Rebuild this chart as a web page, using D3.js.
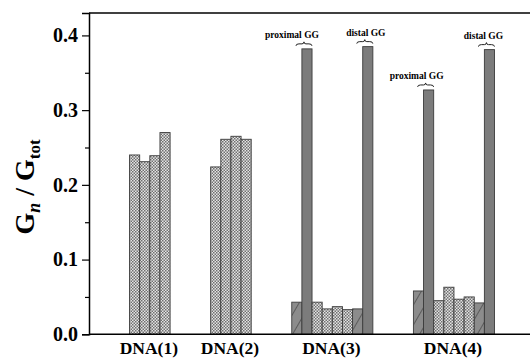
<!DOCTYPE html>
<html lang="en"><head><meta charset="utf-8">
<script type="text/javascript" src="https://cdn.jsdelivr.net/npm/d3@7"></script>
<style>
  body { margin: 0; background: #fff; }
  text { font-family: "Liberation Serif", "Times New Roman", serif; font-weight: bold; }
</style>
</head>
<body>
<script type="text/javascript">
// bar chart of G_n / G_tot per DNA strand
var width = 530;
var height = 358;

var categories = ["DNA(1)", "DNA(2)", "DNA(3)", "DNA(4)"];
var dna1 = [0.240, 0.231, 0.239, 0.270];
var dna2 = [0.224, 0.261, 0.265, 0.261];
var dna3 = [0.043, 0.382, 0.043, 0.034, 0.037, 0.033, 0.034, 0.385];
var dna4 = [0.058, 0.327, 0.045, 0.063, 0.047, 0.050, 0.042, 0.381];
var kinds12 = ["dot", "dot", "dot", "dot"];
var kinds34 = ["hatch", "dark", "dot", "dot", "dot", "dot", "hatch", "dark"];
var yTicks = [0.0, 0.1, 0.2, 0.3, 0.4];
var notes = [
    {group: 2, bar: 1, label: "proximal GG"},
    {group: 2, bar: 7, label: "distal GG"},
    {group: 3, bar: 1, label: "proximal GG"},
    {group: 3, bar: 7, label: "distal GG"}
];
var noteShift = [-15, -2, -12, -6];

var groups = [
    {name: categories[0], values: dna1, kinds: kinds12},
    {name: categories[1], values: dna2, kinds: kinds12},
    {name: categories[2], values: dna3, kinds: kinds34},
    {name: categories[3], values: dna4, kinds: kinds34}
];

// lay the bars out in slots, 4 empty slots between groups
var bars = [];
var slot = 0;
groups.forEach(function(g, gi) {
    g.start = slot;
    g.values.forEach(function(v, i) {
        bars.push({group: gi, index: i, slot: slot + i, value: v, kind: g.kinds[i]});
    });
    g.end = slot + g.values.length - 1;
    slot += g.values.length + 4;
});

var plotL = 89, plotR = 530, plotT = 13, plotB = 334.3;

var x = d3.scaleLinear().domain([-4.5, 39]).range([plotL, plotR]);
var y = d3.scaleLinear().domain([0, 0.43]).range([plotB, plotT]);
var bw = x(1) - x(0);

var svg = d3.select("body").append("svg")
    .attr("width", width)
    .attr("height", height);

var defs = svg.append("defs");

var dot = defs.append("pattern").attr("id", "dot")
    .attr("patternUnits", "userSpaceOnUse")
    .attr("width", 3).attr("height", 3);
dot.append("rect").attr("width", 3).attr("height", 3).attr("fill", "#e4e4e4");
dot.append("rect").attr("width", 1.5).attr("height", 1.5).attr("fill", "#707070");
dot.append("rect").attr("x", 1.5).attr("y", 1.5).attr("width", 1.5).attr("height", 1.5).attr("fill", "#707070");

var hatch = defs.append("pattern").attr("id", "hatch")
    .attr("patternUnits", "userSpaceOnUse")
    .attr("width", 10).attr("height", 10)
    .attr("patternTransform", "rotate(30)");
hatch.append("rect").attr("width", 10).attr("height", 10).attr("fill", "#8c8c8c");
hatch.append("line").attr("x1", 0).attr("y1", 0).attr("x2", 0).attr("y2", 10)
    .attr("stroke", "#3a3a3a").attr("stroke-width", 1.2);

var fills = {dot: "url(#dot)", hatch: "url(#hatch)", dark: "#7c7c7c"};

svg.selectAll("rect.bar")
    .data(bars)
    .enter()
    .append("rect")
    .attr("class", "bar")
    .attr("x", d => x(d.slot) - bw / 2)
    .attr("width", bw)
    .attr("y", d => y(d.value))
    .attr("height", d => y(0) - y(d.value))
    .attr("fill", d => fills[d.kind])
    .attr("stroke", "#3c3c3c")
    .attr("stroke-width", 0.9);

// frame: top line, bottom axis
svg.append("line").attr("x1", plotL).attr("x2", plotR).attr("y1", plotT).attr("y2", plotT)
    .attr("stroke", "#000").attr("stroke-width", 1.5);
svg.append("line").attr("x1", plotL).attr("x2", plotR).attr("y1", plotB).attr("y2", plotB)
    .attr("stroke", "#000").attr("stroke-width", 1.5);

var yAxis = svg.append("g")
    .attr("transform", "translate(" + plotL + ",0)")
    .call(d3.axisLeft(y).tickValues(yTicks).tickFormat(d3.format(".1f")).tickSize(7).tickPadding(4));
yAxis.select(".domain").attr("stroke-width", 1.5);
yAxis.selectAll(".tick line").attr("stroke-width", 1.2);
yAxis.selectAll("text")
    .style("font-size", "20px")
    .attr("fill", "#000");

var minor = svg.append("g")
    .attr("transform", "translate(" + plotL + ",0)")
    .call(d3.axisLeft(y).tickValues([0.05, 0.15, 0.25, 0.35]).tickFormat("").tickSize(4));
minor.select(".domain").remove();
minor.selectAll(".tick line").attr("stroke-width", 1.2);

// category labels
svg.selectAll("text.cat")
    .data(groups)
    .enter()
    .append("text")
    .attr("class", "cat")
    .attr("x", d => (x(d.start) + x(d.end)) / 2 - 1)
    .attr("y", 354)
    .attr("text-anchor", "middle")
    .style("font-size", "17.5px")
    .text(d => d.name);

// peak annotations with small braces
notes.forEach(function(n, i) {
    var b = bars.find(d => d.group === n.group && d.index === n.bar);
    var cx = x(b.slot);
    var ty = y(b.value);
    svg.append("text")
        .attr("x", cx + noteShift[i])
        .attr("y", ty - 11)
        .attr("text-anchor", "middle")
        .style("font-size", "9.5px")
        .text(n.label);
    var bx = cx - 3, by = ty - 5, hw = 8;
    var p = d3.path();
    p.moveTo(bx - hw, by + 2);
    p.quadraticCurveTo(bx - hw, by, bx - hw + 3, by);
    p.lineTo(bx - 2, by);
    p.quadraticCurveTo(bx, by, bx, by - 2);
    p.quadraticCurveTo(bx, by, bx + 2, by);
    p.lineTo(bx + hw - 3, by);
    p.quadraticCurveTo(bx + hw, by, bx + hw, by + 2);
    svg.append("path").attr("d", p.toString())
        .attr("fill", "none").attr("stroke", "#222").attr("stroke-width", 1);
});

// y axis title: G_n / G_tot
var title = svg.append("text")
    .attr("transform", "translate(34," + 187 + ") rotate(-90)")
    .attr("text-anchor", "middle")
    .style("font-size", "28px");
title.append("tspan").text("G");
title.append("tspan").attr("dy", 6).style("font-size", "18px").style("font-style", "italic").text("n");
title.append("tspan").attr("dy", -6).text(" / G");
title.append("tspan").attr("dy", 6).style("font-size", "17px").text("tot");
</script>
</body></html>
